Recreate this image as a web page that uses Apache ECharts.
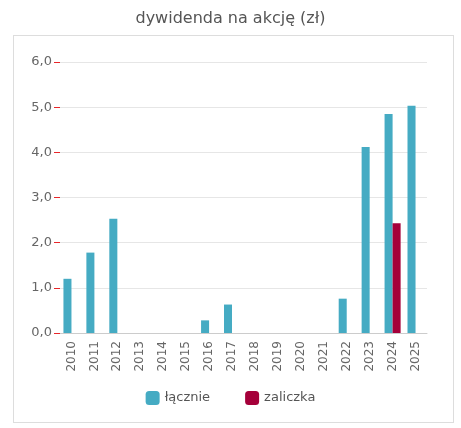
<!DOCTYPE html>
<html><head><meta charset="utf-8">
<script src="https://cdn.jsdelivr.net/npm/echarts@6/dist/echarts.min.js"></script>
<style>
body{margin:0;background:#fff;}
#box{position:absolute;left:13px;top:35px;width:439px;height:386px;border:1px solid #ddd;}
#c{position:absolute;left:0;top:0;width:461px;height:428px;}
</style></head><body>
<div id="box"></div>
<div id="c"></div>
<script>
const years = ['2010','2011','2012','2013','2014','2015','2016','2017','2018','2019','2020','2021','2022','2023','2024','2025'];
const total = [1.2, 1.78, 2.53, null, null, null, 0.28, 0.63, null, null, null, null, 0.76, 4.12, 4.85, 5.03];
const interim = [null, null, null, null, null, null, null, null, null, null, null, null, null, null, 2.43, null];

const chart = echarts.init(document.getElementById('c'));
chart.setOption({
    animation: false,
    title: {
        text: 'dywidenda na akcję (zł)', left: 'center', top: 6,
        textStyle: {color: '#555', fontSize: 16, fontWeight: 'normal', fontFamily: 'DejaVu Sans'}
    },
    grid: {left: 60, right: 34, top: 62, bottom: 95},
    legend: {
        bottom: 18, itemWidth: 14, itemHeight: 14, itemGap: 35,
        textStyle: {color: '#555', fontSize: 13, fontFamily: 'DejaVu Sans'},
        data: ['łącznie', 'zaliczka']
    },
    xAxis: {
        type: 'category', data: years,
        axisLine: {lineStyle: {color: '#ccc'}},
        axisTick: {lineStyle: {color: '#ccc'}},
        axisLabel: {rotate: 90, color: '#666', fontSize: 12, fontFamily: 'DejaVu Sans'}
    },
    yAxis: {
        type: 'value', min: 0, max: 6, interval: 1,
        axisLine: {show: false},
        axisTick: {show: true, length: 6, lineStyle: {color: '#e8262a'}},
        splitLine: {lineStyle: {color: '#e6e6e6'}},
        axisLabel: {color: '#666', fontSize: 13, fontFamily: 'DejaVu Sans', margin: 8,
            formatter: v => v.toFixed(1).replace('.', ',')}
    },
    series: [
        {name: 'łącznie', type: 'bar', data: total, barGap: 0, barCategoryGap: '30%',
            itemStyle: {color: '#45abc3'}},
        {name: 'zaliczka', type: 'bar', data: interim,
            itemStyle: {color: '#a5003a'}}
    ]
});
</script>
</body></html>
